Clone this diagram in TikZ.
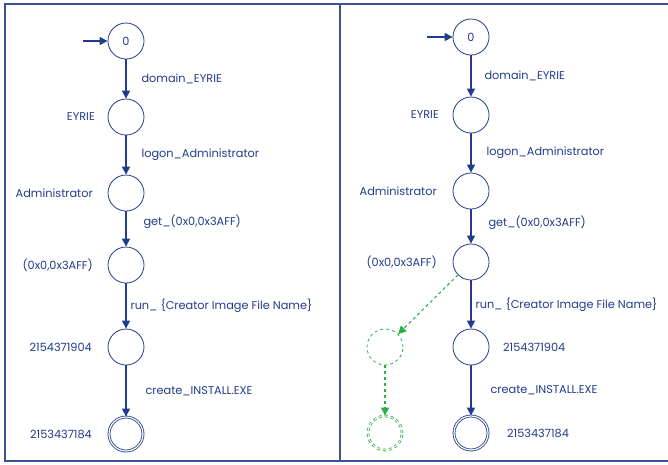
\documentclass[tikz,border=0pt]{standalone}
\usepackage{fontspec}
\setmainfont{Poppins}
\usetikzlibrary{arrows.meta}
\definecolor{dfablue}{RGB}{33,60,140}
\definecolor{framecol}{RGB}{60,80,150}
\definecolor{gapgreen}{RGB}{40,175,70}

\begin{document}
\begin{tikzpicture}[x=1pt,y=-1pt,font=\fontsize{11.3}{13}\selectfont,text=dfablue,state/.style={draw=dfablue,circle,minimum size=36pt,inner sep=0pt,line width=0.8pt},final/.style={state,double,double distance=1.2pt,minimum size=34pt},ghost/.style={draw=gapgreen,dashed,circle,minimum size=36pt,inner sep=0pt,line width=0.8pt},ghostfinal/.style={ghost,double,double distance=1pt,minimum size=34pt},trans/.style={draw=dfablue,line width=1.1pt,-{Triangle[length=8pt,width=8pt]}},gap/.style={draw=gapgreen,dashed,line width=1.1pt,-{Triangle[length=8pt,width=8pt]}},lbl/.style={anchor=west,inner sep=0pt},side/.style={anchor=east,inner sep=0pt}]
\useasboundingbox (0,0) rectangle (668,464);
% frame
\draw[framecol,line width=1.2pt] (668,4) -- (5,4) -- (5,461) -- (668,461);
\draw[framecol,line width=1.2pt] (340,4) -- (340,461);
% left automaton
\node[state] (s0) at (126,41) {0};
\node[state] (s1) at (126,117) {};
\node[state] (s2) at (126,193) {};
\node[state] (s3) at (126,265) {};
\node[state] (s4) at (126,347) {};
\node[final] (s5) at (126,434) {};
\coordinate (in0) at (83,41);
\node[side] at (95,117) {EYRIE};
\node[side] at (93,193) {Administrator};
\node[side] at (93,265) {(0x0,0x3AFF)};
\node[side] at (92,347) {2154371904};
\node[side] at (92,434) {2153437184};
\draw[trans] (in0) -- (s0);
\draw[trans] (s0) -- node[lbl,pos=0.5,xshift=15pt] {domain\_EYRIE} (s1);
\draw[trans] (s1) -- node[lbl,pos=0.5,xshift=15pt] {logon\_Administrator} (s2);
\draw[trans] (s2) -- node[lbl,pos=0.3,xshift=17pt] {get\_(0x0,0x3AFF)} (s3);
\draw[trans] (s3) -- node[lbl,pos=0.5,xshift=4pt] {run\_ \{Creator Image File Name\}} (s4);
\draw[trans] (s4) -- node[lbl,pos=0.5,xshift=19pt] {create\_INSTALL.EXE} (s5);
% right automaton
\node[state] (r0) at (471,37) {0};
\node[state] (r1) at (471,115) {};
\node[state] (r2) at (471,191) {};
\node[state] (r3) at (471,262) {};
\node[state] (r4) at (471,347) {};
\node[final] (r5) at (471,433) {};
\node[ghost] (g1) at (385,347) {};
\node[ghostfinal] (g2) at (385,433) {};
\coordinate (in1) at (427,37);
\node[side] at (439,115) {EYRIE};
\node[side] at (437,191) {Administrator};
\node[side] at (437,262) {(0x0,0x3AFF)};
\node[lbl] at (503,347) {2154371904};
\node[lbl] at (507,433) {2153437184};
\draw[trans] (in1) -- (r0);
\draw[trans] (r0) -- node[lbl,pos=0.5,xshift=13pt] {domain\_EYRIE} (r1);
\draw[trans] (r1) -- node[lbl,pos=0.5,xshift=15pt] {logon\_Administrator} (r2);
\draw[trans] (r2) -- node[lbl,pos=0.4,xshift=17pt] {get\_(0x0,0x3AFF)} (r3);
\draw[trans] (r3) -- node[lbl,pos=0.5,xshift=4pt] {run\_ \{Creator Image File Name\}} (r4);
\draw[trans] (r4) -- node[lbl,pos=0.5,xshift=19pt] {create\_INSTALL.EXE} (r5);
\draw[gap] (r3) -- (g1);
\draw[gap] (g1) -- (g2);
\end{tikzpicture}
\end{document}
